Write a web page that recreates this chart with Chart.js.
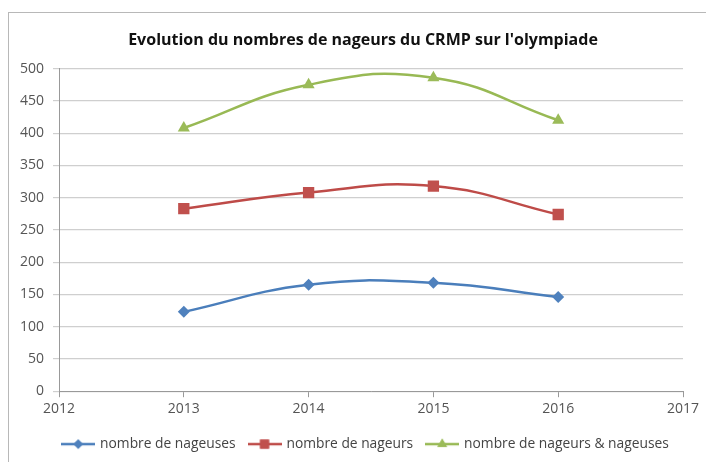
<!DOCTYPE html>
<html lang="fr">
<head>
  <meta charset="UTF-8">
  <title>Evolution du nombres de nageurs du CRMP</title>
  <script src="https://cdn.jsdelivr.net/npm/chart.js"></script>
  <style>
    body { margin: 0; background: #fff; }
    #wrap { position: relative; width: 706px; height: 462px; }
    #frame {
      position: absolute; left: 8px; top: 12px; width: 720px; height: 470px;
      border-left: 1px solid #b8b8b8; border-top: 1px solid #b8b8b8;
    }
    canvas { position: absolute; left: 0; top: 0; }
  </style>
</head>
<body>
<div id="wrap">
  <div id="frame"></div>
  <canvas id="chart" width="706" height="462"></canvas>
</div>

<script>
// données
const annees = [2013, 2014, 2015, 2016];
const nageuses = [123, 165, 168, 146];
const nageurs = [283, 308, 318, 274];
const total = [408, 475, 486, 420];

const series = [
  { label: "nombre de nageuses", data: nageuses, line: "#4A7EBB", fill: "#4F81BD", style: "rectRot", r: 6 },
  { label: "nombre de nageurs", data: nageurs, line: "#BE4B48", fill: "#C0504D", style: "rect", r: 8 },
  { label: "nombre de nageurs & nageuses", data: total, line: "#98B954", fill: "#9BBB59", style: "triangle", r: 7 }
];

// petite image ligne + marqueur pour la légende (style Excel)
function legendIcon(s) {
  const c = document.createElement("canvas");
  c.width = 34; c.height = 12;
  const ctx = c.getContext("2d");
  ctx.strokeStyle = s.line;
  ctx.lineWidth = 2.5;
  ctx.beginPath(); ctx.moveTo(0, 6); ctx.lineTo(34, 6); ctx.stroke();
  ctx.fillStyle = s.fill;
  ctx.beginPath();
  Chart.helpers.drawPoint(ctx, { pointStyle: s.style, radius: s.r * 0.8, borderWidth: 0 }, 17, 6);
  ctx.fill();
  return c;
}

// titre et légende centrés sur le cadre, pas sur la zone du graphique
const recentrer = {
  id: "recentrer",
  afterLayout(chart) {
    if (chart.titleBlock) { chart.titleBlock.left = 10; chart.titleBlock.right = 716; }
    if (chart.legend) { chart.legend.left = 26; chart.legend.right = 706; }
  }
};

const font = "'Open Sans', sans-serif";

new Chart(document.getElementById("chart"), {
  type: "line",
  data: {
    datasets: series.map(s => ({
      label: s.label,
      data: s.data.map((v, i) => ({ x: annees[i], y: v })),
      borderColor: s.line,
      backgroundColor: s.fill,
      borderWidth: 2.5,
      tension: 0.45,
      pointStyle: s.style,
      pointRadius: s.r,
      pointBorderWidth: 0,
      pointBackgroundColor: s.fill
    }))
  },
  plugins: [recentrer],
  options: {
    responsive: false,
    animation: false,
    layout: { padding: { left: 10, right: 23, top: 31, bottom: 1 } },
    plugins: {
      title: {
        display: true,
        text: "Evolution du nombres de nageurs du CRMP sur l'olympiade",
        color: "#111",
        font: { family: font, size: 16, weight: "bold" },
        padding: { top: 0, bottom: 18.5 }
      },
      legend: {
        position: "bottom",
        labels: {
          color: "#444",
          font: { family: font, size: 13.8 },
          usePointStyle: true,
          pointStyleWidth: 30,
          boxHeight: 12,
          padding: 14,
          generateLabels: chart => series.map((s, i) => ({
            text: s.label,
            pointStyle: legendIcon(s),
            fontColor: "#444",
            datasetIndex: i,
            lineWidth: 0,
            strokeStyle: "transparent",
            fillStyle: "transparent"
          }))
        }
      },
      tooltip: { enabled: false }
    },
    scales: {
      x: {
        type: "linear",
        min: 2012,
        max: 2017,
        ticks: {
          stepSize: 1,
          color: "#555",
          font: { family: font, size: 14 },
          padding: 3,
          callback: v => String(v)
        },
        grid: { drawOnChartArea: false, tickLength: 6, color: "#999" },
        border: { color: "#999" },
        afterFit: s => { s.height = 32; }
      },
      y: {
        min: 0,
        max: 500,
        ticks: {
          stepSize: 50,
          color: "#555",
          font: { family: font, size: 14 },
          padding: 9
        },
        grid: { color: "#cfcfcf", tickLength: 6, lineWidth: 1.2 },
        border: { color: "#999" },
        afterFit: s => { s.width = 49; }
      }
    }
  }
});
</script>
</body>
</html>
